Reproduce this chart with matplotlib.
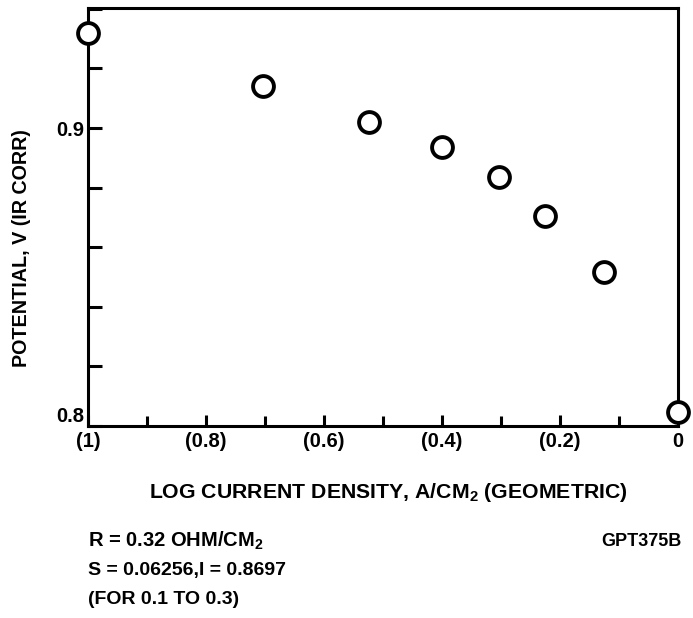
import matplotlib
matplotlib.use("Agg")
import matplotlib.pyplot as plt
from matplotlib.ticker import MultipleLocator, FixedLocator, FixedFormatter

# data
log_i = [-1.0, -0.703, -0.524, -0.400, -0.303, -0.225, -0.125, 0.0]
potential = [0.932, 0.914, 0.902, 0.8936, 0.8836, 0.8705, 0.8517, 0.8047]

xtick_pos = [-1.0, -0.8, -0.6, -0.4, -0.2, 0.0]
xtick_lab = ["(1)", "(0.8)", "(0.6)", "(0.4)", "(0.2)", "0"]
ytick_pos = [0.8, 0.9]
ytick_lab = ["0.8", "0.9"]

fam = ["Liberation Sans", "DejaVu Sans"]
plt.rcParams["font.family"] = fam
plt.rcParams["font.weight"] = "bold"
plt.rcParams["mathtext.fontset"] = "custom"
plt.rcParams["mathtext.rm"] = "Liberation Sans:bold"
plt.rcParams["mathtext.bf"] = "Liberation Sans:bold"
plt.rcParams["mathtext.default"] = "rm"

fig = plt.figure(figsize=(6.93, 6.18), dpi=100)
ax = fig.add_axes([88 / 693, 1 - 426 / 618, 590 / 693, 418 / 618])

ax.plot(log_i, potential, linestyle="none", marker="o", markersize=15,
        markerfacecolor="white", markeredgecolor="black", markeredgewidth=2.8,
        clip_on=False, zorder=5)

ax.set_xlim(-1.0, 0.0)
ax.set_ylim(0.8, 0.9403)

ax.xaxis.set_major_locator(FixedLocator(xtick_pos))
ax.xaxis.set_major_formatter(FixedFormatter(xtick_lab))
ax.xaxis.set_minor_locator(MultipleLocator(0.1))
ax.yaxis.set_major_locator(FixedLocator(ytick_pos))
ax.yaxis.set_major_formatter(FixedFormatter(ytick_lab))
ax.yaxis.set_minor_locator(MultipleLocator(0.02))

ax.tick_params(which="both", direction="in", width=2.2, top=False, right=False)
ax.tick_params(axis="x", which="major", length=8, labelsize=14.5, pad=4)
ax.tick_params(axis="x", which="minor", length=7)
ax.tick_params(axis="y", which="major", length=10, labelsize=14.5, pad=3)
ax.tick_params(axis="y", which="minor", length=10)
for lab in ax.get_xticklabels() + ax.get_yticklabels():
    lab.set_fontweight("bold")
# the 0.8 label sits just above the corner in the original
ax.yaxis.get_major_ticks()[0].label1.set_verticalalignment("bottom")

for sp in ax.spines.values():
    sp.set_linewidth(2.2)

fig.text(388 / 693, 1 - 492 / 618, r"LOG CURRENT DENSITY, A/CM$_2$ (GEOMETRIC)",
         ha="center", va="center", fontsize=15.3, fontweight="bold")
fig.text(22 / 693, 1 - 248 / 618, "POTENTIAL, V (IR CORR)", rotation=90,
         ha="center", va="center", fontsize=14.2, fontweight="bold")

fig.text(88 / 693, 1 - 541 / 618, r"R = 0.32 OHM/CM$_2$", ha="left", va="center",
         fontsize=14.5, fontweight="bold")
fig.text(88 / 693, 1 - 571 / 618, "S = 0.06256,I = 0.8697", ha="left", va="center",
         fontsize=14, fontweight="bold")
fig.text(88 / 693, 1 - 599 / 618, "(FOR 0.1 TO 0.3)", ha="left", va="center",
         fontsize=14, fontweight="bold")
fig.text(681 / 693, 1 - 541 / 618, "GPT375B", ha="right", va="center",
         fontsize=13, fontweight="bold")

fig.savefig("out.png", dpi=100)
